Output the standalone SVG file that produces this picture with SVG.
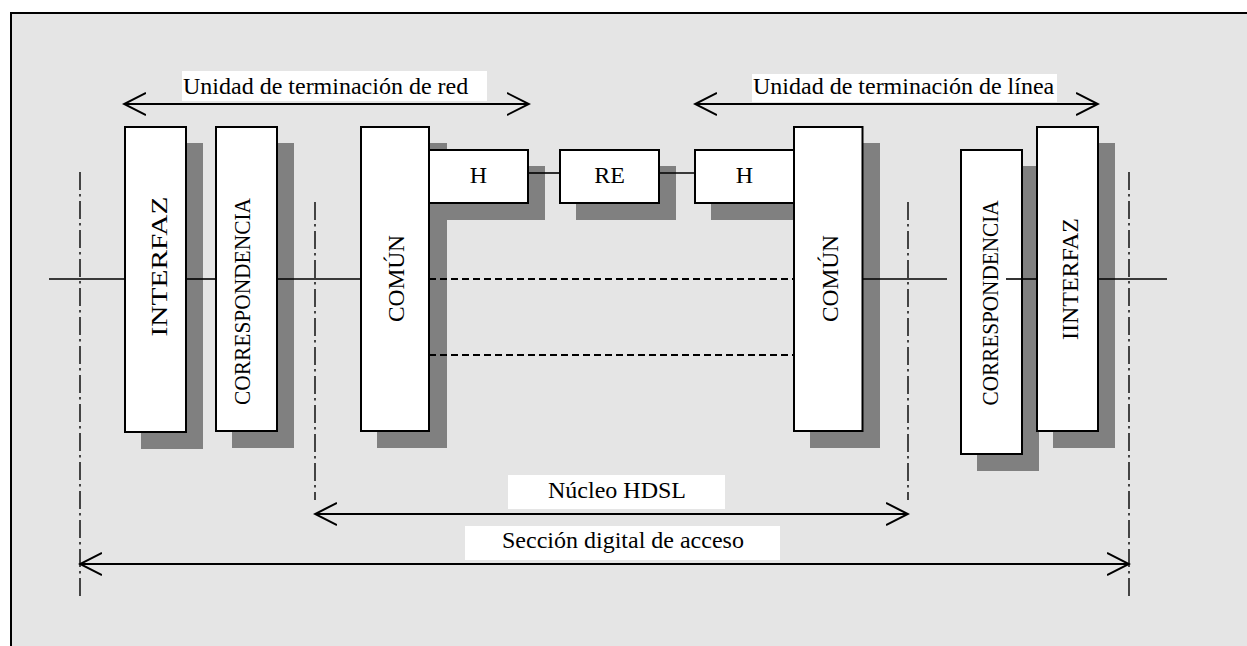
<svg xmlns="http://www.w3.org/2000/svg" width="1247" height="646" viewBox="0 0 1247 646">
  <style>
    .bg { fill: #e5e5e5; stroke: #000; stroke-width: 2; }
    .shadow { fill: #808080; stroke: none; }
    .box { fill: #ffffff; stroke: #000; stroke-width: 2; }
    .lbl { font-family: "Liberation Serif", "Times New Roman", serif; font-size: 24px; fill: #000; }
    .mid { text-anchor: middle; }
    .tag { fill: #ffffff; stroke: none; }
    .wire { stroke: #000; stroke-width: 1.6; fill: none; }
    .dash { stroke: #000; stroke-width: 1.8; fill: none; stroke-dasharray: 7 4; }
    .axis { stroke: #000; stroke-width: 1.4; fill: none; stroke-dasharray: 18 4 2.5 4.5; }
    .span { stroke: #000; stroke-width: 2; fill: none; }
  </style>
  <defs>
    <marker id="open-end" viewBox="0 0 24 24" refX="22" refY="12" markerWidth="24" markerHeight="24" markerUnits="userSpaceOnUse" orient="auto-start-reverse">
      <polyline points="0,1 22,12 0,23" fill="none" stroke="#000" stroke-width="2"/>
    </marker>
  </defs>

  <!-- frame -->
  <rect class="bg" x="11" y="13" width="1250" height="650"/>

  <!-- drop shadows -->
  <g id="shadows">
    <rect class="shadow" x="141" y="143" width="62" height="306"/>
    <rect class="shadow" x="232" y="143" width="62" height="305"/>
    <rect class="shadow" x="377" y="143" width="70" height="305"/>
    <rect class="shadow" x="445" y="166" width="100" height="54"/>
    <rect class="shadow" x="576" y="166" width="100" height="54"/>
    <rect class="shadow" x="711" y="166" width="100" height="54"/>
    <rect class="shadow" x="810" y="143" width="70" height="305"/>
    <rect class="shadow" x="977" y="166" width="62" height="305"/>
    <rect class="shadow" x="1053" y="143" width="62" height="305"/>
  </g>

  <!-- network termination unit -->
  <g id="interfaz-l">
    <rect class="box" x="125" y="127" width="61" height="305"/>
    <text class="lbl mid" transform="translate(158,266.5) rotate(-90)" y="8.5" textLength="140" lengthAdjust="spacingAndGlyphs">INTERFAZ</text>
  </g>
  <g id="correspondencia-l">
    <rect class="box" x="216" y="127" width="61" height="304"/>
    <text class="lbl mid" transform="translate(242,301.5) rotate(-90)" y="8" textLength="207" lengthAdjust="spacingAndGlyphs">CORRESPONDENCIA</text>
  </g>
  <g id="comun-l">
    <rect class="box" x="361" y="127" width="68" height="304"/>
    <text class="lbl mid" transform="translate(396,278.5) rotate(-90)" y="8" textLength="87" lengthAdjust="spacingAndGlyphs">COMÚN</text>
  </g>
  <g id="h-l">
    <rect class="box" x="429" y="150" width="99" height="53"/>
    <text class="lbl mid" x="478.5" y="183">H</text>
  </g>

  <!-- regenerator -->
  <g id="re">
    <rect class="box" x="560" y="150" width="99" height="53"/>
    <text class="lbl mid" x="609.5" y="183">RE</text>
  </g>

  <!-- line termination unit -->
  <g id="h-r">
    <rect class="box" x="695" y="150" width="99" height="53"/>
    <text class="lbl mid" x="744.5" y="183">H</text>
  </g>
  <g id="comun-r">
    <rect class="box" x="794" y="127" width="68.5" height="304"/>
    <text class="lbl mid" transform="translate(830,278.5) rotate(-90)" y="8" textLength="87" lengthAdjust="spacingAndGlyphs">COMÚN</text>
  </g>
  <g id="correspondencia-r">
    <rect class="box" x="961" y="150" width="61" height="304"/>
    <text class="lbl mid" transform="translate(989.5,303) rotate(-90)" y="8" textLength="205" lengthAdjust="spacingAndGlyphs">CORRESPONDENCIA</text>
  </g>
  <g id="interfaz-r">
    <rect class="box" x="1037" y="127" width="61" height="304"/>
    <text class="lbl mid" transform="translate(1069.5,279) rotate(-90)" y="8.5" textLength="122" lengthAdjust="spacingAndGlyphs">IINTERFAZ</text>
  </g>

  <!-- connectors -->
  <g id="connectors">
    <!-- signal path -->
    <line class="wire" x1="49" y1="279" x2="125" y2="279"/>
    <line class="wire" x1="186" y1="279" x2="216" y2="279"/>
    <line class="wire" x1="277" y1="279" x2="361" y2="279"/>
    <line class="wire" x1="862" y1="279" x2="947" y2="279"/>
    <line class="wire" x1="1006" y1="279" x2="1037" y2="279"/>
    <line class="wire" x1="1098" y1="279" x2="1167" y2="279"/>
    <!-- loop links -->
    <line class="wire" x1="528" y1="173" x2="560" y2="173"/>
    <line class="wire" x1="659" y1="173" x2="695" y2="173"/>
    <line class="dash" x1="429" y1="279" x2="794" y2="279"/>
    <line class="dash" x1="429" y1="355" x2="794" y2="355"/>
    <!-- reference points -->
    <line class="axis" x1="80" y1="172" x2="80" y2="598"/>
    <line class="axis" x1="315" y1="202" x2="315" y2="500"/>
    <line class="axis" x1="908" y1="202" x2="908" y2="500"/>
    <line class="axis" x1="1129" y1="172" x2="1129" y2="598"/>
    <!-- extent arrows -->
    <line class="span" x1="124" y1="104" x2="529" y2="104" marker-start="url(#open-end)" marker-end="url(#open-end)"/>
    <line class="span" x1="695" y1="104" x2="1098" y2="104" marker-start="url(#open-end)" marker-end="url(#open-end)"/>
    <line class="span" x1="315" y1="514" x2="908" y2="514" marker-start="url(#open-end)" marker-end="url(#open-end)"/>
    <line class="span" x1="80" y1="564" x2="1129" y2="564" marker-start="url(#open-end)" marker-end="url(#open-end)"/>
  </g>

  <!-- extent labels -->
  <g id="label-ntu">
    <rect class="tag" x="182" y="71" width="305" height="30"/>
    <text class="lbl" x="183" y="94">Unidad de terminación de red</text>
  </g>
  <g id="label-ltu">
    <rect class="tag" x="752" y="74" width="305" height="28"/>
    <text class="lbl" x="753" y="94">Unidad de terminación de línea</text>
  </g>
  <g id="label-core">
    <rect class="tag" x="508" y="475" width="217" height="34"/>
    <text class="lbl" x="548" y="498">Núcleo HDSL</text>
  </g>
  <g id="label-section">
    <rect class="tag" x="465" y="526" width="315" height="34"/>
    <text class="lbl" x="502" y="548">Sección digital de acceso</text>
  </g>
</svg>
